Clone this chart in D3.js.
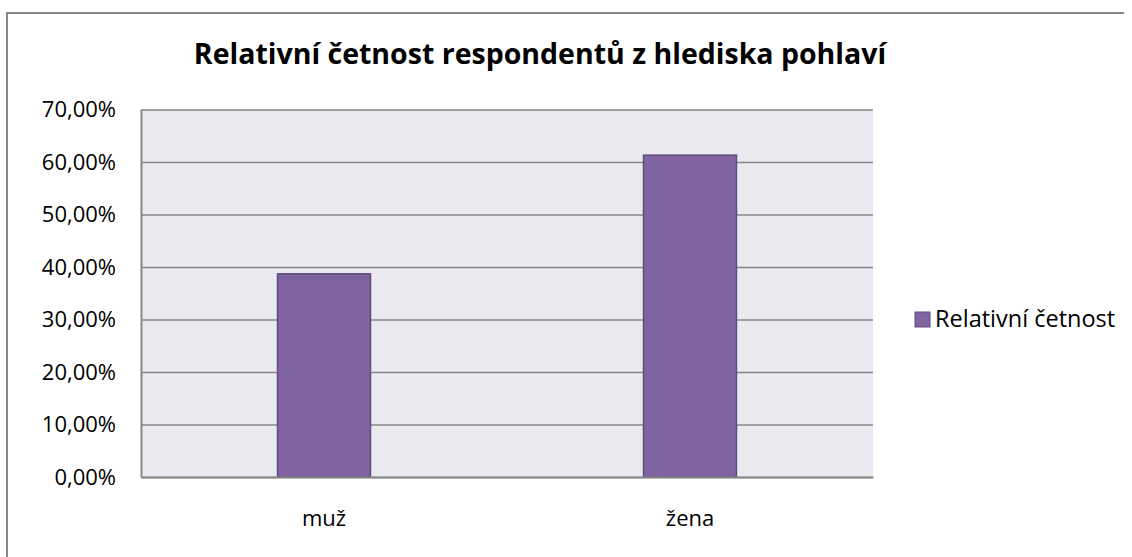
<!DOCTYPE html>
<html>
<head>
<meta charset="utf-8">
<script src="https://cdn.jsdelivr.net/npm/d3@7"></script>
<style>
  body { margin: 0; background: #fff; }
  text { font-family: "Open Sans", sans-serif; fill: #000; }
</style>
</head>
<body>
<div id="chart"></div>
<script>
// data
var categories = ["muž", "žena"];
var values = [0.387, 0.613];
var seriesName = "Relativní četnost";
var titleText = "Relativní četnost respondentů z hlediska pohlaví";
var yTicks = [0, 0.1, 0.2, 0.3, 0.4, 0.5, 0.6, 0.7];

var W = 1132, H = 557;
var margin = {top: 109.5, right: 259, bottom: 80, left: 141},
    width = W - margin.left - margin.right,
    height = H - margin.top - margin.bottom;

var svg = d3.select("#chart").append("svg")
    .attr("width", W)
    .attr("height", H);

// outer frame
svg.append("path")
    .attr("d", "M7," + H + "V13H1124")
    .attr("fill", "none")
    .attr("stroke", "#878787")
    .attr("stroke-width", 2);

svg.append("text")
    .attr("x", 540)
    .attr("y", 64)
    .attr("text-anchor", "middle")
    .style("font-size", "28.5px")
    .style("font-weight", "bold")
    .text(titleText);

var g = svg.append("g")
    .attr("transform", "translate(" + margin.left + "," + margin.top + ")");

var x = d3.scaleBand()
    .domain(categories)
    .range([0, width])
    .paddingInner(0.746)
    .paddingOuter(0.373);

var xCat = d3.scaleBand()
    .domain(categories)
    .range([0, width]);

var y = d3.scaleLinear()
    .domain([0, 0.7])
    .range([height, 0]);

g.append("rect")
    .attr("width", width)
    .attr("height", height)
    .attr("fill", "#ebe9f0");

// gridlines
g.append("g")
    .attr("class", "grid")
    .call(d3.axisLeft(y).tickValues(yTicks).tickSize(-width).tickFormat(""))
    .call(function(s) {
      s.select(".domain").remove();
      s.selectAll("line").attr("stroke", "#878787").attr("stroke-width", 1.6);
    });

// y axis line + labels
var fmt = function(d) { return (d * 100).toFixed(2).replace(".", ",") + "%"; };
g.append("g")
    .call(d3.axisLeft(y).tickValues(yTicks).tickSize(0).tickPadding(25).tickFormat(fmt))
    .call(function(s) {
      s.select(".domain").attr("stroke", "#878787").attr("stroke-width", 2);
      s.selectAll("text").style("font-size", "22px").attr("fill", "#000");
    });

// bars
g.selectAll(".bar")
    .data(values)
  .enter().append("rect")
    .attr("class", "bar")
    .attr("x", function(d, i) { return x(categories[i]); })
    .attr("width", x.bandwidth())
    .attr("y", function(d) { return y(d); })
    .attr("height", function(d) { return height - y(d); })
    .attr("fill", "#8064a2")
    .attr("stroke", "#5e4a7b")
    .attr("stroke-width", 1.5);

// x axis
g.append("g")
    .attr("transform", "translate(0," + height + ")")
    .call(d3.axisBottom(xCat).tickSize(0).tickPadding(33))
    .call(function(s) {
      s.select(".domain").attr("stroke", "#878787").attr("stroke-width", 2);
      s.selectAll("text").style("font-size", "22px").attr("fill", "#000");
    });

// legend
var legend = svg.append("g")
    .attr("transform", "translate(915,312)");
legend.append("rect")
    .attr("width", 15)
    .attr("height", 15)
    .attr("fill", "#8064a2")
    .attr("stroke", "#5e4a7b")
    .attr("stroke-width", 1);
legend.append("text")
    .attr("x", 20)
    .attr("y", 15)
    .style("font-size", "23.5px")
    .text(seriesName);
</script>
</body>
</html>
